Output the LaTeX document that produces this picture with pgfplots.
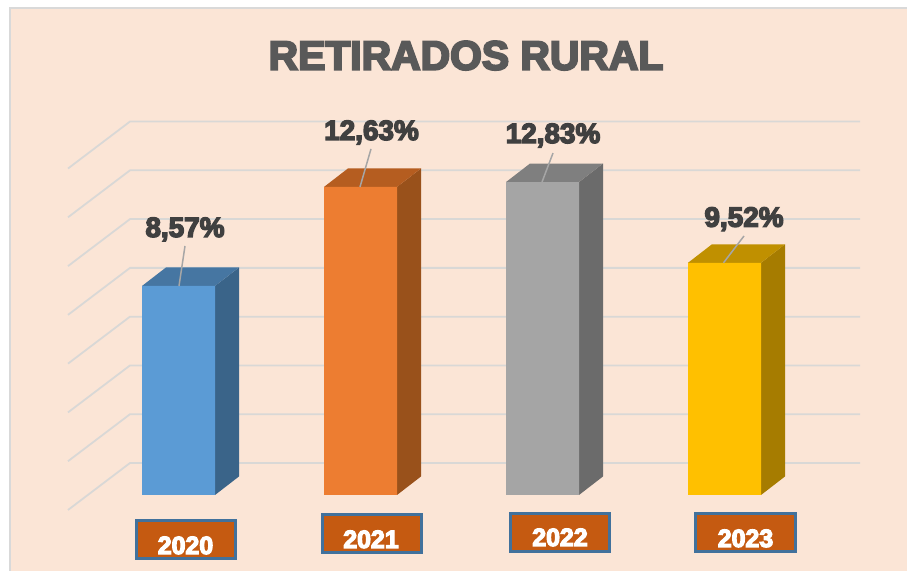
\documentclass[border=0pt]{standalone}
\usepackage{fontspec}
\setmainfont{Liberation Sans}[BoldFeatures={FakeBold=5}]
\usepackage{pgfplots}
\pgfplotsset{compat=1.18}

\definecolor{panel}{HTML}{FBE5D6}
\definecolor{gridc}{HTML}{D9D8D6}
\definecolor{edgec}{HTML}{D9D9D9}
\definecolor{titlec}{HTML}{595959}
\definecolor{labelc}{HTML}{404040}
\definecolor{leader}{HTML}{A6A6A6}
\definecolor{boxfill}{HTML}{C55A11}
\definecolor{boxedge}{HTML}{41719C}
\definecolor{blueF}{HTML}{5B9BD5}
\definecolor{blueS}{HTML}{3A6489}
\definecolor{blueT}{HTML}{4676A2}
\definecolor{orangeF}{HTML}{ED7D31}
\definecolor{orangeS}{HTML}{99511B}
\definecolor{orangeT}{HTML}{B55D20}
\definecolor{grayF}{HTML}{A5A5A5}
\definecolor{grayS}{HTML}{6B6B6B}
\definecolor{grayT}{HTML}{7F7F7F}
\definecolor{goldF}{HTML}{FFC000}
\definecolor{goldS}{HTML}{A67C00}
\definecolor{goldT}{HTML}{C09000}

\tikzset{
    gridline/.style={gridc, line width=1.8bp},
    leaderline/.style={leader, line width=1.5bp},
    datalabel/.style={anchor=base, text=labelc, font=\fontsize{28}{28}\selectfont\bfseries},
    yearbox/.style={fill=boxfill, draw=boxedge, line width=3bp},
    yearlabel/.style={anchor=base, text=white, font=\fontsize{25}{25}\selectfont\bfseries},
}

\begin{document}
\begin{tikzpicture}
\begin{axis}[
    scale only axis,
    width=907bp,
    height=571bp,
    xmin=0, xmax=907,
    ymin=-3.116, ymax=20.295,
    axis lines=none,
]
% page and panel
\fill[white] (axis cs:0,-3.116) rectangle (axis cs:907,20.295);
\fill[panel] (axis cs:10,-3.116) rectangle (axis cs:907,19.967);
\draw[edgec, line width=1.5bp] (axis cs:10,-3.116) -- (axis cs:10,19.967) -- (axis cs:907,19.967);

% gridlines, 0 to 14 in steps of 2
\addplot[gridline] coordinates {(68,-0.615) (130,1.312) (860,1.312)};
\addplot[gridline] coordinates {(68,1.385) (130,3.312) (860,3.312)};
\addplot[gridline] coordinates {(68,3.385) (130,5.312) (860,5.312)};
\addplot[gridline] coordinates {(68,5.385) (130,7.312) (860,7.312)};
\addplot[gridline] coordinates {(68,7.385) (130,9.312) (860,9.312)};
\addplot[gridline] coordinates {(68,9.385) (130,11.312) (860,11.312)};
\addplot[gridline] coordinates {(68,11.385) (130,13.312) (860,13.312)};
\addplot[gridline] coordinates {(68,13.385) (130,15.312) (860,15.312)};

% 2020
\addplot[fill=blueS, draw=none] coordinates {(215,0) (239,0.76) (239,9.33) (215,8.57) (215,0)};
\addplot[fill=blueT, draw=none] coordinates {(142,8.57) (215,8.57) (239,9.33) (166,9.33) (142,8.57)};
\addplot[fill=blueF, draw=none] coordinates {(142,0) (215,0) (215,8.57) (142,8.57) (142,0)};
% 2021
\addplot[fill=orangeS, draw=none] coordinates {(397,0) (421,0.76) (421,13.39) (397,12.63) (397,0)};
\addplot[fill=orangeT, draw=none] coordinates {(324,12.63) (397,12.63) (421,13.39) (348,13.39) (324,12.63)};
\addplot[fill=orangeF, draw=none] coordinates {(324,0) (397,0) (397,12.63) (324,12.63) (324,0)};
% 2022
\addplot[fill=grayS, draw=none] coordinates {(579,0) (603,0.76) (603,13.59) (579,12.83) (579,0)};
\addplot[fill=grayT, draw=none] coordinates {(506,12.83) (579,12.83) (603,13.59) (530,13.59) (506,12.83)};
\addplot[fill=grayF, draw=none] coordinates {(506,0) (579,0) (579,12.83) (506,12.83) (506,0)};
% 2023
\addplot[fill=goldS, draw=none] coordinates {(761,0) (785,0.76) (785,10.28) (761,9.52) (761,0)};
\addplot[fill=goldT, draw=none] coordinates {(688,9.52) (761,9.52) (785,10.28) (712,10.28) (688,9.52)};
\addplot[fill=goldF, draw=none] coordinates {(688,0) (761,0) (761,9.52) (688,9.52) (688,0)};

% leader lines
\addplot[leaderline] coordinates {(179,8.57) (185,10.21)};
\addplot[leaderline] coordinates {(360,12.63) (371,14.19)};
\addplot[leaderline] coordinates {(542,12.83) (553,14.02)};
\addplot[leaderline] coordinates {(723.5,9.52) (744,10.62)};

% data labels
\node[datalabel] at (axis cs:185,10.58) {8,57\%};
\node[datalabel] at (axis cs:371.5,14.555) {12,63\%};
\node[datalabel] at (axis cs:553,14.43) {12,83\%};
\node[datalabel] at (axis cs:744,11.0) {9,52\%};

% year boxes
\draw[yearbox] (axis cs:136.5,-1.046) rectangle (axis cs:235.5,-2.624);
\draw[yearbox] (axis cs:322.5,-0.80) rectangle (axis cs:421.5,-2.357);
\draw[yearbox] (axis cs:510.5,-0.759) rectangle (axis cs:609.5,-2.317);
\draw[yearbox] (axis cs:695.5,-0.759) rectangle (axis cs:795.5,-2.317);
\node[yearlabel] at (axis cs:185.5,-2.419) {2020};
\node[yearlabel] at (axis cs:371,-2.17) {2021};
\node[yearlabel] at (axis cs:560,-2.09) {2022};
\node[yearlabel] at (axis cs:745.5,-2.13) {2023};

% title
\node[anchor=base, text=titlec, font=\fontsize{41}{41}\selectfont\bfseries] at (axis cs:466,17.44) {RETIRADOS RURAL};
\end{axis}
\end{tikzpicture}
\end{document}
